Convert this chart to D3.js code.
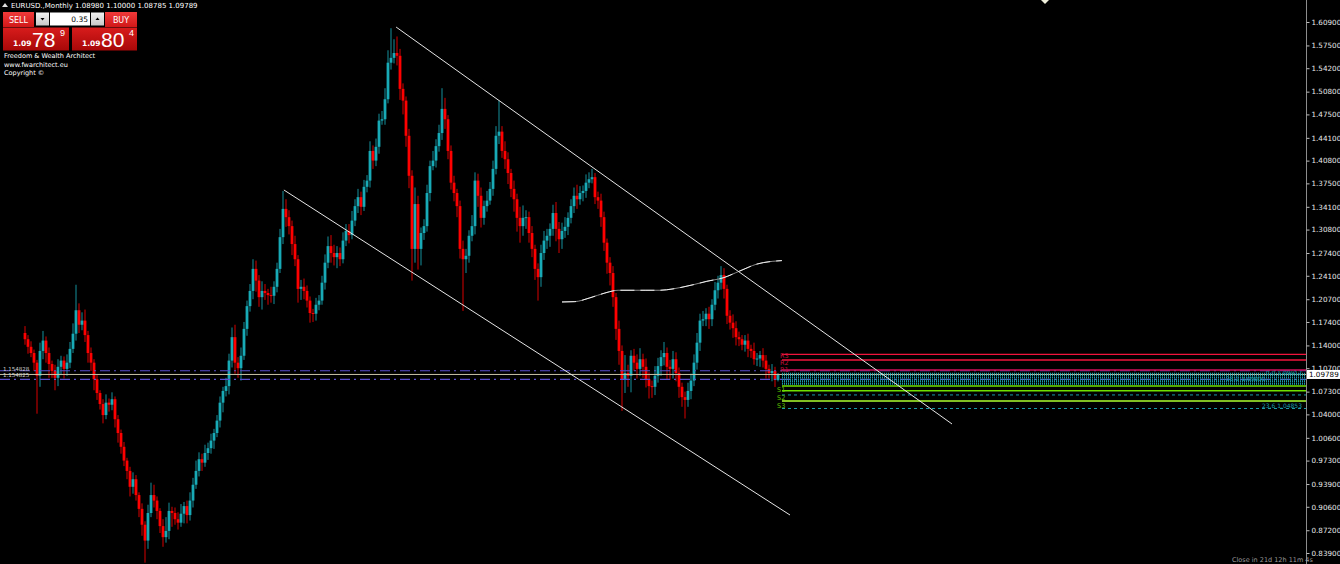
<!DOCTYPE html>
<html><head><meta charset="utf-8">
<script src="https://cdn.jsdelivr.net/npm/d3@7"></script>
<style>html,body{margin:0;padding:0;background:#000;overflow:hidden}</style>
</head><body>
<svg id="c" width="1340" height="564"></svg>
<script>
// ---- data (EURUSD monthly) ----
const firstOpen = 1.158;
const closes = [
1.149,1.138,1.129,1.115,1.096,1.132,1.147,1.129,1.113,1.103,1.093,1.109,
1.118,1.106,1.115,1.135,1.157,1.191,1.170,1.176,1.155,1.129,1.115,1.091,
1.071,1.055,1.039,1.057,1.054,1.062,1.033,1.013,0.993,0.973,0.958,0.935,
0.946,0.923,0.903,0.880,0.857,0.897,0.923,0.915,0.900,0.878,0.862,0.871,
0.900,0.897,0.888,0.883,0.896,0.907,0.894,0.915,0.938,0.958,0.975,0.970,
0.984,0.991,1.002,1.013,1.031,1.057,1.074,1.081,1.118,1.152,1.115,1.107,
1.125,1.164,1.197,1.219,1.251,1.234,1.210,1.219,1.216,1.213,1.212,1.225,
1.251,1.297,1.338,1.326,1.313,1.287,1.265,1.222,1.225,1.219,1.205,1.187,
1.186,1.199,1.205,1.231,1.260,1.284,1.274,1.268,1.274,1.265,1.292,1.306,
1.300,1.321,1.342,1.355,1.341,1.370,1.379,1.422,1.408,1.428,1.466,1.468,
1.497,1.550,1.557,1.564,1.560,1.512,1.495,1.444,1.386,1.280,1.345,1.280,
1.303,1.313,1.361,1.400,1.408,1.429,1.448,1.483,1.468,1.422,1.376,1.361,
1.342,1.280,1.265,1.270,1.299,1.313,1.379,1.357,1.325,1.342,1.350,1.367,
1.396,1.444,1.450,1.422,1.410,1.390,1.367,1.352,1.325,1.313,1.325,1.326,
1.303,1.280,1.251,1.239,1.274,1.292,1.299,1.309,1.332,1.309,1.294,1.306,
1.312,1.325,1.342,1.357,1.352,1.361,1.364,1.376,1.381,1.384,1.355,1.350,
1.326,1.289,1.260,1.245,1.210,1.164,1.132,1.091,1.100,1.096,1.125,1.115,
1.106,1.120,1.109,1.091,1.081,1.080,1.096,1.110,1.123,1.129,1.109,1.106,
1.120,1.100,1.080,1.065,1.061,1.074,1.089,1.115,1.144,1.176,1.178,1.186,
1.178,1.199,1.220,1.231,1.242,1.222,1.183,1.173,1.165,1.152,1.149,1.141,
1.147,1.135,1.132,1.120,1.121,1.126,1.118,1.106,1.100,1.103,1.0898,1.09789];
const upperWicks = [
.010,.006,.008,.005,.004,.012,.014,.006,.008,.005,.009,.011,
.007,.006,.012,.010,.015,.037,.010,.012,.016,.006,.008,.005,
.006,.004,.007,.012,.006,.010,.004,.006,.005,.007,.004,.006,
.010,.006,.004,.008,.005,.012,.018,.015,.006,.004,.010,.020,
.012,.006,.008,.010,.014,.006,.008,.012,.010,.015,.010,.008,
.012,.008,.010,.006,.008,.009,.006,.012,.010,.014,.018,.008,
.012,.010,.008,.010,.014,.012,.008,.014,.010,.006,.012,.008,
.009,.012,.026,.014,.010,.008,.012,.006,.010,.012,.008,.006,
.006,.010,.008,.010,.012,.014,.016,.012,.010,.008,.012,.010,
.010,.014,.010,.012,.008,.010,.008,.014,.008,.012,.010,.012,
.016,.018,.043,.020,.024,.010,.008,.006,.010,.008,.024,.012,
.008,.010,.012,.008,.014,.010,.012,.030,.016,.006,.008,.010,
.006,.008,.012,.010,.008,.016,.012,.010,.012,.008,.014,.010,
.012,.014,.045,.008,.014,.010,.006,.012,.008,.016,.018,.010,
.008,.010,.006,.008,.012,.014,.010,.008,.012,.016,.010,.012,
.014,.008,.010,.012,.016,.010,.008,.012,.010,.012,.006,.008,
.010,.008,.006,.008,.010,.006,.012,.008,.026,.012,.008,.010,
.012,.016,.008,.012,.010,.008,.014,.012,.010,.016,.008,.010,
.012,.010,.008,.006,.008,.012,.010,.012,.014,.010,.012,.008,
.010,.008,.012,.010,.013,.010,.006,.008,.012,.010,.008,.006,
.008,.010,.006,.012,.008,.006,.010,.008,.006,.010,.006,.0021];
const lowerWicks = [
.008,.010,.006,.012,.055,.016,.012,.014,.020,.010,.018,.012,
.012,.014,.010,.008,.006,.010,.012,.008,.010,.014,.012,.016,
.010,.008,.012,.006,.010,.008,.012,.014,.010,.008,.012,.014,
.010,.008,.012,.016,.032,.012,.006,.010,.012,.010,.014,.008,
.012,.020,.008,.010,.006,.014,.012,.008,.010,.006,.008,.012,
.006,.010,.008,.012,.006,.010,.014,.008,.012,.010,.016,.014,
.018,.006,.010,.008,.012,.016,.014,.018,.010,.014,.010,.012,
.008,.006,.010,.014,.012,.016,.010,.020,.016,.012,.010,.014,
.012,.010,.008,.006,.010,.008,.014,.012,.016,.010,.006,.008,
.012,.006,.008,.010,.012,.006,.008,.010,.012,.008,.010,.006,
.008,.006,.010,.008,.014,.016,.020,.016,.018,.046,.020,.030,
.024,.010,.008,.012,.006,.010,.008,.010,.014,.012,.010,.012,
.016,.014,.075,.020,.010,.008,.012,.016,.014,.010,.008,.006,
.010,.008,.012,.010,.014,.016,.012,.018,.020,.024,.014,.016,
.014,.012,.016,.034,.014,.010,.012,.016,.010,.018,.020,.014,
.010,.012,.008,.010,.014,.008,.012,.010,.008,.006,.010,.012,
.014,.012,.016,.018,.014,.016,.020,.046,.020,.016,.024,.012,
.014,.010,.016,.012,.018,.016,.012,.010,.014,.012,.018,.016,
.014,.012,.016,.014,.027,.010,.012,.008,.010,.012,.008,.010,
.014,.010,.008,.012,.010,.014,.012,.010,.014,.012,.010,.008,
.010,.012,.010,.008,.010,.012,.010,.014,.008,.012,.010,.0020];
const tickLabels = [1.609,1.575,1.542,1.508,1.475,1.441,1.408,1.375,1.341,1.308,1.274,1.241,
  1.207,1.174,1.140,1.107,1.073,1.040,1.006,0.973,0.939,0.906,0.872,0.839];
const bidPrice = 1.09789;
const headerText = "EURUSD.,Monthly  1.08980 1.10000 1.08785 1.09789";
// trend lines: [barIndex, price]
const upperChannel = [[123.7,1.6017],[309,1.0261]];
const lowerChannel = [[86.3,1.3654],[255,0.8941]];
// moving average curve
const maIdx = [179,183.3,188.3,193.3,197.7,206.7,211.7,216,222.7,227.3,232.7,238.3,244,249.3,252.3];
const maVal = [1.203,1.2035,1.209,1.216,1.220,1.220,1.220,1.222,1.228,1.233,1.238,1.248,1.258,1.262,1.263];
// pivot levels
const resistNames = ["R3","R2","R1"];
const resistLevels = [1.1271,1.1189,1.1044];
const supportNames = ["S1","S2","S3"];
const supportLevels = [1.0812,1.0743,1.0594];
const fibLevels = [1.0991,1.0960,1.0932,1.0900,1.0875,1.0843,1.0682,1.04853];
const fibLabels = ["","0.0  1.09912","","","38.2  1.09001","","","23.6  1.04853"];
const dashDotLevels = [1.1033,1.0909];

// ---- drawing ----
const svg = d3.select('#c');
svg.append('rect').attr('width',1340).attr('height',564).attr('fill','#000');
const x = d3.scaleLinear().domain([0,251]).range([25,778]);
const y = d3.scaleLinear().domain([0.839,1.609]).range([553,22]);
const BULL = '#18aab6', BEAR = '#ff0000';

const candles = closes.map((c,i)=>{
  const o = i ? closes[i-1] : firstOpen;
  return {i,o,c,h:Math.max(o,c)+upperWicks[i],l:Math.min(o,c)-lowerWicks[i]};
});
const cg = svg.append('g');
cg.selectAll('line').data(candles).join('line')
  .attr('x1',d=>x(d.i)).attr('x2',d=>x(d.i))
  .attr('y1',d=>y(d.h)).attr('y2',d=>y(d.l))
  .attr('stroke',d=>d.c>=d.o?'#14909c':'#d80000').attr('stroke-width',1);
cg.selectAll('rect').data(candles).join('rect')
  .attr('x',d=>x(d.i)-1.4).attr('width',2.8)
  .attr('y',d=>y(Math.max(d.o,d.c)))
  .attr('height',d=>Math.max(1,Math.abs(y(d.o)-y(d.c))))
  .attr('fill',d=>d.c>=d.o?BULL:BEAR);

// horizontal lines
const lx0 = 782, lx1 = 1306;
dashDotLevels.forEach(p=>{
  svg.append('line').attr('x1',0).attr('x2',lx1).attr('y1',y(p)).attr('y2',y(p))
    .attr('stroke','#5a4fcf').attr('stroke-width',1.2).attr('stroke-dasharray','10,4,2,4');
});
svg.append('line').attr('x1',0).attr('x2',lx1).attr('y1',y(bidPrice)).attr('y2',y(bidPrice))
  .attr('stroke','#c9c3a8').attr('stroke-width',1);
const fibLabelX = [0,1302,0,0,1266,0,0,1302];
fibLevels.forEach((p,k)=>{
  const dashed = k>=6;
  svg.append('line').attr('x1',lx0).attr('x2',lx1).attr('y1',y(p)).attr('y2',y(p))
    .attr('stroke','#1a9aa8').attr('stroke-width',dashed?1:1.6)
    .attr('stroke-dasharray',dashed?'3,3':'1,1');
  if(fibLabels[k]) svg.append('text').attr('x',fibLabelX[k]).attr('y',y(p)-1).attr('text-anchor','end')
    .attr('fill','#1a9aa8').attr('font-family','DejaVu Sans').attr('font-size',6).text(fibLabels[k]);
});
resistLevels.forEach((p,k)=>{
  svg.append('line').attr('x1',lx0).attr('x2',lx1).attr('y1',y(p)).attr('y2',y(p))
    .attr('stroke',k===2?'#d0105a':'#f0143c').attr('stroke-width',1.3);
});
[358,365,372].forEach((ty,k)=>{
  svg.append('text').attr('x',780).attr('y',ty).attr('fill','#c0103a')
    .attr('font-family','DejaVu Sans').attr('font-size',6.5).text(resistNames[k]);
});
supportLevels.forEach((p,k)=>{
  svg.append('line').attr('x1',lx0).attr('x2',lx1).attr('y1',y(p)).attr('y2',y(p))
    .attr('stroke',k===2?'#adff2f':'#6fe000').attr('stroke-width',1.4);
});
[392,400,408].forEach((ty,k)=>{
  svg.append('text').attr('x',777).attr('y',ty).attr('fill','#5cc000')
    .attr('font-family','DejaVu Sans').attr('font-size',6.5).text(supportNames[k]);
});
// left labels of fib object
["1.154828","1.154825"].forEach((t,k)=>{
  svg.append('text').attr('x',3).attr('y',371+k*6).attr('fill','#cfcfcf')
   .attr('font-family','DejaVu Sans').attr('font-size',5.5).text(t);
});

// channel lines
const tl = d3.line().x(d=>x(d[0])).y(d=>y(d[1]));
[upperChannel,lowerChannel].forEach(pts=>{
  svg.append('path').attr('d',tl(pts)).attr('stroke','#e6e6e6').attr('stroke-width',1).attr('fill','none');
});
// moving average
const maPts = maIdx.map((v,k)=>[v,maVal[k]]);
const ml = d3.line().x(d=>x(d[0])).y(d=>y(d[1])).curve(d3.curveMonotoneX);
svg.append('path').attr('d',ml(maPts)).attr('stroke','#8a8a8a').attr('stroke-width',1).attr('fill','none');
svg.append('path').attr('d',ml(maPts)).attr('stroke','#f0f0f0').attr('stroke-width',1).attr('fill','none')
  .attr('stroke-dasharray','14,6');

// right axis
svg.append('line').attr('x1',1306.5).attr('x2',1306.5).attr('y1',0).attr('y2',564).attr('stroke','#8c8c8c');
const ag = svg.append('g').attr('transform','translate(1306.5,0)')
  .call(d3.axisRight(y).tickValues(tickLabels).tickSize(3).tickFormat(d3.format('.5f')));
ag.select('.domain').remove();
ag.selectAll('line').attr('stroke','#bbbbbb');
ag.selectAll('text').attr('fill','#e8e8e8').attr('font-size',7.2).attr('font-family','DejaVu Sans').attr('x',5);
// bid box
svg.append('rect').attr('x',1307).attr('y',y(bidPrice)-4.5).attr('width',33).attr('height',9).attr('fill','#fff');
svg.append('text').attr('x',1309).attr('y',y(bidPrice)+3).attr('fill','#000')
  .attr('font-size',7.2).attr('font-family','DejaVu Sans').text(bidPrice.toFixed(5));

// top marker
svg.append('path').attr('d','M1041,0 L1049,0 L1045,4 Z').attr('fill','#f0f0dc');

// timer text
svg.append('text').attr('x',1232).attr('y',562).attr('fill','#9a9a9a').attr('font-size',6.5)
  .attr('font-family','DejaVu Sans').text('Close in 21d 12h 11m 4s');

// ---- trading panel ----
const defs = svg.append('defs');
const g1 = defs.append('linearGradient').attr('id','gSmall').attr('x1',0).attr('y1',0).attr('x2',0).attr('y2',1);
g1.append('stop').attr('offset','0%').attr('stop-color','#f03a3a');
g1.append('stop').attr('offset','100%').attr('stop-color','#d01818');
const g2 = defs.append('linearGradient').attr('id','gBig').attr('x1',0).attr('y1',0).attr('x2',0).attr('y2',1);
g2.append('stop').attr('offset','0%').attr('stop-color','#d81c1c');
g2.append('stop').attr('offset','100%').attr('stop-color','#a80808');
const gg = defs.append('linearGradient').attr('id','gGray').attr('x1',0).attr('y1',0).attr('x2',0).attr('y2',1);
gg.append('stop').attr('offset','0%').attr('stop-color','#f2f2f2');
gg.append('stop').attr('offset','100%').attr('stop-color','#c8c8c8');

const font = 'DejaVu Sans';
svg.append('path').attr('d','M2,7 L5,3 L8,7 Z').attr('fill','#ddd');
svg.append('text').attr('x',11).attr('y',8).attr('fill','#fff').attr('font-size',7).attr('font-family',font).text(headerText);

svg.append('rect').attr('x',3).attr('y',12).attr('width',31).attr('height',15).attr('fill','url(#gSmall)');
svg.append('text').attr('x',18.5).attr('y',22.5).attr('text-anchor','middle').attr('fill','#fff').attr('font-size',8).attr('font-family',font).text('SELL');
svg.append('rect').attr('x',36).attr('y',12.5).attr('width',13).attr('height',13).attr('fill','url(#gGray)');
svg.append('path').attr('d','M40.5,18 L44.5,18 L42.5,20.5 Z').attr('fill','#000');
svg.append('rect').attr('x',50).attr('y',12.5).attr('width',40).attr('height',13).attr('fill','#fff');
svg.append('text').attr('x',88).attr('y',22).attr('text-anchor','end').attr('fill','#000').attr('font-size',7.5).attr('font-family',font).text('0.35');
svg.append('rect').attr('x',91).attr('y',12.5).attr('width',13).attr('height',13).attr('fill','url(#gGray)');
svg.append('path').attr('d','M95.5,20 L99.5,20 L97.5,17.5 Z').attr('fill','#000');
svg.append('rect').attr('x',105).attr('y',12).attr('width',32).attr('height',15).attr('fill','url(#gSmall)');
svg.append('text').attr('x',121).attr('y',22.5).attr('text-anchor','middle').attr('fill','#fff').attr('font-size',8).attr('font-family',font).text('BUY');

[[3,69,'78','9'],[72,137,'80','4']].forEach(([a,b,big,sup])=>{
  svg.append('rect').attr('x',a).attr('y',27.5).attr('width',b-a).attr('height',23).attr('fill','url(#gBig)');
  svg.append('text').attr('x',a+10).attr('y',46).attr('fill','#fff').attr('font-size',7.5).attr('font-weight','bold').attr('font-family',font).text('1.09');
  svg.append('text').attr('x',a+29).attr('y',47).attr('fill','#fff').attr('font-size',21).attr('font-family','Liberation Sans').text(big);
  svg.append('text').attr('x',a+57).attr('y',36).attr('fill','#fff').attr('font-size',9).attr('font-family','Liberation Sans').text(sup);
});
['Freedom & Wealth Architect','www.fwarchitect.eu','Copyright ©'].forEach((t,k)=>{
  svg.append('text').attr('x',4).attr('y',58+k*8.5).attr('fill','#fff').attr('font-size',6.5).attr('font-family',font).text(t);
});
</script>
</body></html>
